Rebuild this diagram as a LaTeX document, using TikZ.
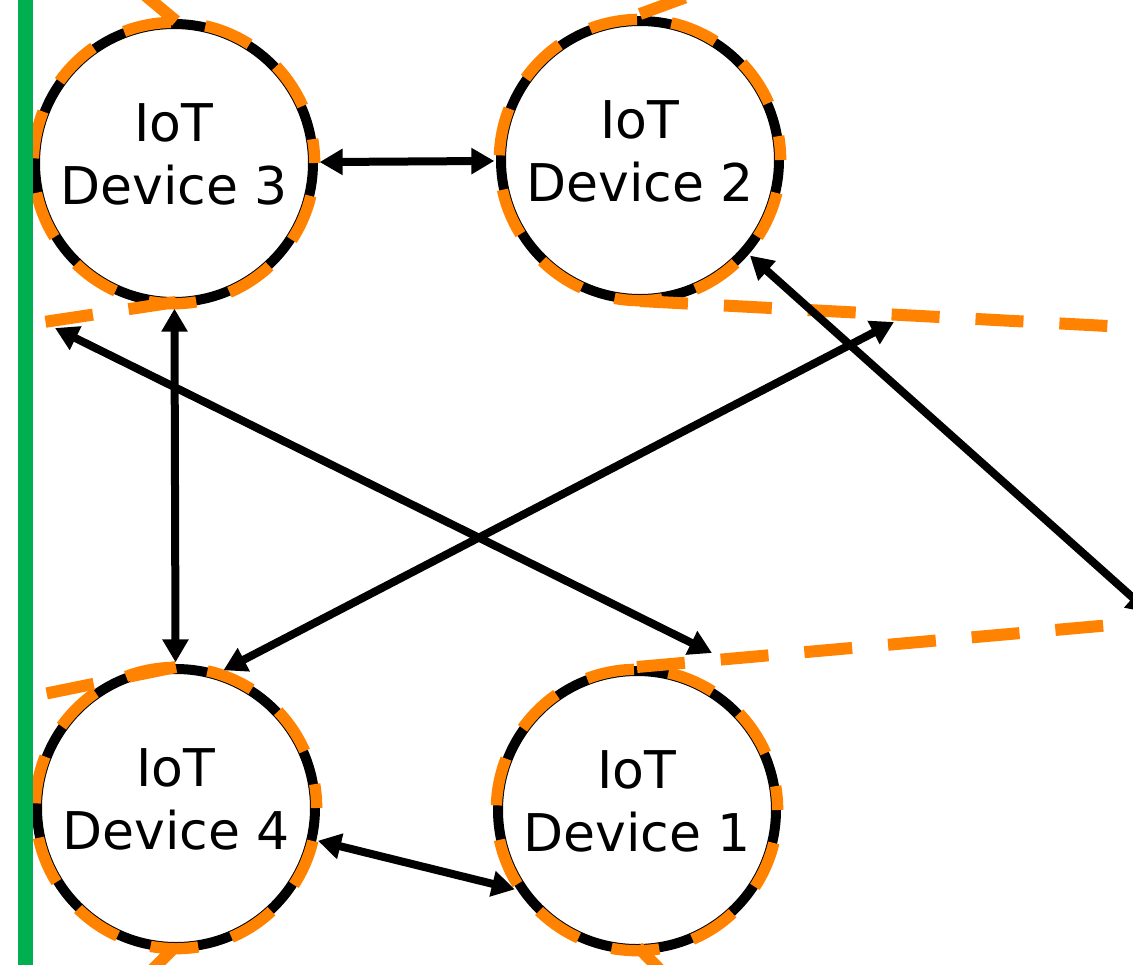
\documentclass[tikz,border=0pt]{standalone}
\usepackage{fontspec}
\newfontfamily\labelfont{DejaVu Sans}
\usetikzlibrary{arrows.meta}
\definecolor{linkorange}{RGB}{255,130,0}
\definecolor{edgegreen}{RGB}{0,176,80}
\tikzset{
  device/.style={circle, draw=black, line width=7.5pt, minimum size=208.5pt,
    inner sep=0pt, outer sep=5pt, align=center, text depth=13.5pt,
    font=\labelfont\fontsize{39}{47}\selectfont},
  ring/.style={draw=linkorange, line width=8.5pt, line cap=butt,
    dash pattern=on 36pt off 26pt, dash phase=18pt},
  boundary/.style={draw=linkorange, line width=9pt, line cap=butt,
    dash pattern=on 36pt off 27pt},
  link/.style={draw=black, line width=6pt,
    {Triangle[length=17.25pt,width=18.75pt]}-{Triangle[length=17.25pt,width=18.75pt]}},
}
\begin{document}
\begin{tikzpicture}[x=0.75pt, y=-0.75pt]
  \useasboundingbox (0,0) rectangle (1133,965);
  \fill[white] (0,0) rectangle (1133,965);
  \clip (0,0) rectangle (1133,965);

  % devices
  \node[device] (c3) at (174,163) {IoT\\Device 3};
  \node[device] (c2) at (640,160) {IoT\\Device 2};
  \node[device] (c4) at (176,808) {IoT\\Device 4};
  \node[device] (c1) at (637,810) {IoT\\Device 1};

  % dashed cluster rings
  \foreach \n in {c1,c2,c3,c4}
    \draw[ring] (\n.center) circle[radius=105.5pt];

  % cluster boundary segments
  \coordinate (b1s) at (176,21);   \coordinate (b1e) at (128,-19);
  \coordinate (b2s) at (176,302);  \coordinate (b2e) at (44,322);
  \coordinate (b3s) at (640,14);   \coordinate (b3e) at (700,-8);
  \coordinate (b4s) at (640,301);  \coordinate (b4e) at (1145,328);
  \coordinate (b5s) at (176,667);  \coordinate (b5e) at (39,695);
  \coordinate (b6s) at (637,667);  \coordinate (b6e) at (1145,622);
  \coordinate (b7s) at (172,950);  \coordinate (b7e) at (148,974);
  \coordinate (b8s) at (638,947);  \coordinate (b8e) at (665,975);
  \foreach \k in {1,...,8}
    \draw[boundary] (b\k s) -- (b\k e);

  % links
  \coordinate (p1) at (55,328);
  \coordinate (p2) at (712,653);
  \coordinate (p3) at (894,322);
  \coordinate (p4) at (1150,613);
  \draw[link] (c3) -- (c2);
  \draw[link] (c3) -- (c4);
  \draw[link] (p1) -- (p2);
  \draw[link] (c4.71.6) -- (p3);
  \draw[link] (c2.-41.2) -- (p4);
  \draw[link] (c4.-13.9) -- (c1.213);

  % edge of the region
  \draw[edgegreen, line width=11.25pt] (25,-10) -- (25,975);
\end{tikzpicture}
\end{document}
